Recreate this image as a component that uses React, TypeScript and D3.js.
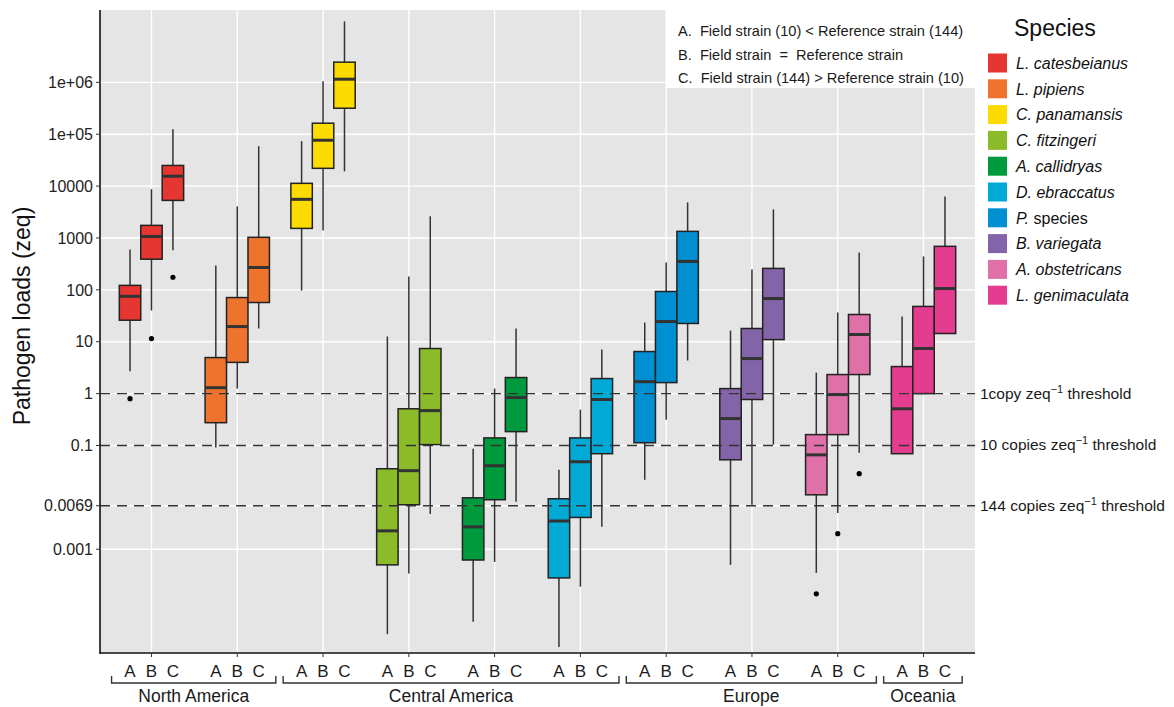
import { useEffect, useRef } from 'react';

import * as d3 from 'd3';

const width = 1174;
const height = 707;
// panel edges
const [pl, pr, pt, pb] = [100, 975, 10, 653];
const font = '"Liberation Sans", Arial, sans-serif';

const species = [
    'L. catesbeianus',
    'L. pipiens',
    'C. panamansis',
    'C. fitzingeri',
    'A. callidryas',
    'D. ebraccatus',
    'P. species',
    'B. variegata',
    'A. obstetricans',
    'L. genimaculata'
];
const speciesColors = [
    '#E53632',
    '#EE742E',
    '#FCDB00',
    '#8CBB2A',
    '#009A3E',
    '#00AAD5',
    '#008FD0',
    '#8464A8',
    '#E070A8',
    '#E43C8E'
];
const regions = ['North America', 'Central America', 'Europe', 'Oceania'];
const regionSizes = [2, 4, 3, 1];
const strains = ['A', 'B', 'C'];
const strainNotes = [
    'A.  Field strain (10) < Reference strain (144)',
    'B.  Field strain  =  Reference strain',
    'C.  Field strain (144) > Reference strain (10)'
];

const yTicks = [1e6, 1e5, 1e4, 1000, 100, 10, 1, 0.1, 0.0069, 0.001];
const yTickLabels = ['1e+06', '1e+05', '10000', '1000', '100', '10', '1', '0.1', '0.0069', '0.001'];
const thresholds = [1, 0.1, 0.0069];
const thresholdCopies = ['1copy', '10 copies', '144 copies'];

// box statistics, strains A, B, C for each species in order
const whiskerLow = [
    2.7, 40, 580,
    0.091, 1.25, 18,
    97, 1400, 19300,
    2.3e-5, 0.00034, 0.0048,
    4e-5, 0.00057, 0.0082,
    1.3e-5, 0.00019, 0.0027,
    0.0218, 0.315, 4.34,
    0.0005, 0.0072, 0.104,
    0.00035, 0.005, 0.0726,
    0.0695, 1.0, 14.4
];
const lowerQuartile = [
    26, 390, 5300,
    0.275, 4, 57,
    1530, 22000, 317000,
    0.0005, 0.0072, 0.104,
    0.00062, 0.009, 0.185,
    0.00028, 0.0041, 0.0695,
    0.113, 1.63, 22.5,
    0.053, 0.77, 11,
    0.0112, 0.162, 2.33,
    0.0695, 1.0, 14.4
];
const medians = [
    75, 1070, 15500,
    1.3, 19.6, 270,
    5560, 76600, 1.15e6,
    0.00226, 0.0327, 0.47,
    0.0027, 0.0407, 0.84,
    0.0035, 0.0486, 0.77,
    1.7, 24.5, 353,
    0.33, 4.74, 68,
    0.066, 0.956, 13.8,
    0.51, 7.4, 106
];
const upperQuartile = [
    122, 1750, 25000,
    4.95, 71, 1030,
    11300, 163000, 2.45e6,
    0.0356, 0.51, 7.4,
    0.0098, 0.14, 2.04,
    0.0094, 0.14, 1.95,
    6.47, 93, 1340,
    1.25, 18, 259,
    0.162, 2.33, 33.5,
    3.32, 47.9, 690
];
const whiskerHigh = [
    600, 8700, 125000,
    296, 4070, 58600,
    73300, 1.05e6, 1.5e7,
    12.6, 181, 2620,
    0.087, 1.25, 18,
    0.034, 0.49, 7.07,
    23.5, 337, 4860,
    16.4, 247, 3560,
    2.54, 36.6, 527,
    30.6, 442, 6330
];
const outlierSpecies = [0, 0, 0, 8, 8, 8];
const outlierStrain = ['A', 'B', 'C', 'A', 'B', 'C'];
const outlierValues = [0.8, 11.5, 175, 0.000138, 0.002, 0.0286];

export default function App() {
    const svgRef = useRef<SVGSVGElement>(null);

    useEffect(() => {
        const svg = d3.select(svgRef.current);
        svg.selectAll('*').remove();

        const x = d3.scalePoint().domain(species).range([pl, pr]).padding(0.6);
        const step = x.step();
        const xInner = d3
            .scaleBand()
            .domain(strains)
            .range([-0.375 * step, 0.375 * step]);
        const bw = xInner.bandwidth();
        const y = d3.scaleLog().domain([1e-5, 2.48e7]).range([pb, pt]);

        // panel
        svg.append('rect')
            .attr('x', pl)
            .attr('y', pt)
            .attr('width', pr - pl)
            .attr('height', pb - pt)
            .attr('fill', '#E5E5E5');

        // grid
        svg.append('g')
            .selectAll('line')
            .data(yTicks)
            .join('line')
            .attr('x1', pl)
            .attr('x2', pr)
            .attr('y1', (d) => y(d))
            .attr('y2', (d) => y(d))
            .attr('stroke', '#fff')
            .attr('stroke-width', 1.4);
        svg.append('g')
            .selectAll('line')
            .data(species)
            .join('line')
            .attr('x1', (d) => x(d)!)
            .attr('x2', (d) => x(d)!)
            .attr('y1', pt)
            .attr('y2', pb)
            .attr('stroke', '#fff')
            .attr('stroke-width', 1.4);

        // annotation box for the strains
        const note = svg.append('g');
        note.append('rect')
            .attr('x', 666)
            .attr('y', pt)
            .attr('width', pr - 666)
            .attr('height', 78)
            .attr('fill', '#fff');
        note.selectAll('text')
            .data(strainNotes)
            .join('text')
            .attr('x', 678)
            .attr('y', (_, i) => 36 + i * 23.5)
            .attr('font-size', 14.6)
            .attr('fill', '#1a1a1a')
            .attr('xml:space', 'preserve')
            .style('white-space', 'pre')
            .text((d) => d);

        // boxes
        const boxes = svg.append('g');
        species.forEach((s, i) => {
            strains.forEach((st, j) => {
                const k = i * 3 + j;
                const cx = x(s)! + xInner(st)! + bw / 2;
                const g = boxes.append('g');
                g.append('line')
                    .attr('x1', cx)
                    .attr('x2', cx)
                    .attr('y1', y(whiskerHigh[k]))
                    .attr('y2', y(upperQuartile[k]))
                    .attr('stroke', '#333')
                    .attr('stroke-width', 1.5);
                g.append('line')
                    .attr('x1', cx)
                    .attr('x2', cx)
                    .attr('y1', y(lowerQuartile[k]))
                    .attr('y2', y(whiskerLow[k]))
                    .attr('stroke', '#333')
                    .attr('stroke-width', 1.5);
                g.append('rect')
                    .attr('x', cx - bw / 2)
                    .attr('y', y(upperQuartile[k]))
                    .attr('width', bw)
                    .attr('height', y(lowerQuartile[k]) - y(upperQuartile[k]))
                    .attr('fill', speciesColors[i])
                    .attr('stroke', '#222')
                    .attr('stroke-width', 1.5);
                g.append('line')
                    .attr('x1', cx - bw / 2)
                    .attr('x2', cx + bw / 2)
                    .attr('y1', y(medians[k]))
                    .attr('y2', y(medians[k]))
                    .attr('stroke', '#333')
                    .attr('stroke-width', 3);
            });
        });

        // outliers
        svg.append('g')
            .selectAll('circle')
            .data(outlierValues)
            .join('circle')
            .attr('cx', (_, i) => x(species[outlierSpecies[i]])! + xInner(outlierStrain[i])! + bw / 2)
            .attr('cy', (d) => y(d))
            .attr('r', 2.6)
            .attr('fill', '#000');

        // thresholds
        const thr = svg.append('g');
        thr.selectAll('line')
            .data(thresholds)
            .join('line')
            .attr('x1', pl)
            .attr('x2', pr)
            .attr('y1', (d) => y(d))
            .attr('y2', (d) => y(d))
            .attr('stroke', '#333')
            .attr('stroke-width', 1.4)
            .attr('stroke-dasharray', '10,7');
        thresholds.forEach((v, i) => {
            const t = thr.append('text')
                .attr('x', pr + 5)
                .attr('y', y(v) + 5)
                .attr('font-size', 15.5)
                .attr('fill', '#1a1a1a');
            t.append('tspan').text(`${thresholdCopies[i]} zeq`);
            t.append('tspan').attr('dy', -6).attr('font-size', 11).text('−1');
            t.append('tspan').attr('dy', 6).text(' threshold');
        });

        // y axis
        const ax = svg.append('g');
        ax.append('line')
            .attr('x1', pl)
            .attr('x2', pl)
            .attr('y1', pt)
            .attr('y2', pb + 1)
            .attr('stroke', '#111')
            .attr('stroke-width', 1.6);
        ax.selectAll('.tick')
            .data(yTicks)
            .join('line')
            .attr('x1', pl - 4)
            .attr('x2', pl)
            .attr('y1', (d) => y(d))
            .attr('y2', (d) => y(d))
            .attr('stroke', '#333');
        ax.selectAll('text')
            .data(yTickLabels)
            .join('text')
            .attr('x', pl - 7)
            .attr('y', (_, i) => y(yTicks[i]))
            .attr('dy', '0.36em')
            .attr('text-anchor', 'end')
            .attr('font-size', 16)
            .attr('fill', '#222')
            .text((d) => d);
        svg.append('text')
            .attr('transform', 'translate(30, 316) rotate(-90)')
            .attr('text-anchor', 'middle')
            .attr('font-size', 23)
            .attr('fill', '#111')
            .text('Pathogen loads (zeq)');

        // x axis
        const bx = svg.append('g');
        bx.append('line')
            .attr('x1', pl)
            .attr('x2', pr)
            .attr('y1', pb)
            .attr('y2', pb)
            .attr('stroke', '#111')
            .attr('stroke-width', 1.6);
        bx.selectAll('.tick')
            .data(species)
            .join('line')
            .attr('x1', (d) => x(d)!)
            .attr('x2', (d) => x(d)!)
            .attr('y1', pb)
            .attr('y2', pb + 4)
            .attr('stroke', '#333');
        species.forEach((s) => {
            strains.forEach((st) => {
                bx.append('text')
                    .attr('x', x(s)! + xInner(st)! + bw / 2)
                    .attr('y', 677)
                    .attr('text-anchor', 'middle')
                    .attr('font-size', 17)
                    .attr('fill', '#1a1a1a')
                    .text(st);
            });
        });

        // region brackets
        let start = 0;
        regions.forEach((r, i) => {
            const first = x(species[start])!;
            const last = x(species[start + regionSizes[i] - 1])!;
            const x0 = first - 0.465 * step;
            const x1 = last + 0.45 * step;
            bx.append('path')
                .attr('d', `M${x0},676V683H${x1}V676`)
                .attr('fill', 'none')
                .attr('stroke', '#333')
                .attr('stroke-width', 1.4);
            bx.append('text')
                .attr('x', (x0 + x1) / 2)
                .attr('y', 702)
                .attr('text-anchor', 'middle')
                .attr('font-size', 17.5)
                .attr('fill', '#1a1a1a')
                .text(r);
            start += regionSizes[i];
        });

        // legend
        const lg = svg.append('g');
        lg.append('text')
            .attr('x', 1014)
            .attr('y', 36)
            .attr('font-size', 23)
            .attr('fill', '#111')
            .text('Species');
        species.forEach((s, i) => {
            const cy = 63 + i * 25.8;
            lg.append('rect')
                .attr('x', 988)
                .attr('y', cy - 9.5)
                .attr('width', 19)
                .attr('height', 19)
                .attr('fill', speciesColors[i]);
            const t = lg.append('text')
                .attr('x', 1016)
                .attr('y', cy)
                .attr('dy', '0.36em')
                .attr('font-size', 16)
                .attr('fill', '#111');
            if (s === 'P. species') {
                t.append('tspan').attr('font-style', 'italic').text('P.');
                t.append('tspan').text(' species');
            } else {
                t.attr('font-style', 'italic').text(s);
            }
        });
    }, []);

    return (
        <svg
            ref={svgRef}
            width={width}
            height={height}
            style={{ position: 'absolute', left: 0, top: 0, background: '#fff', fontFamily: font }}
        />
    );
}
